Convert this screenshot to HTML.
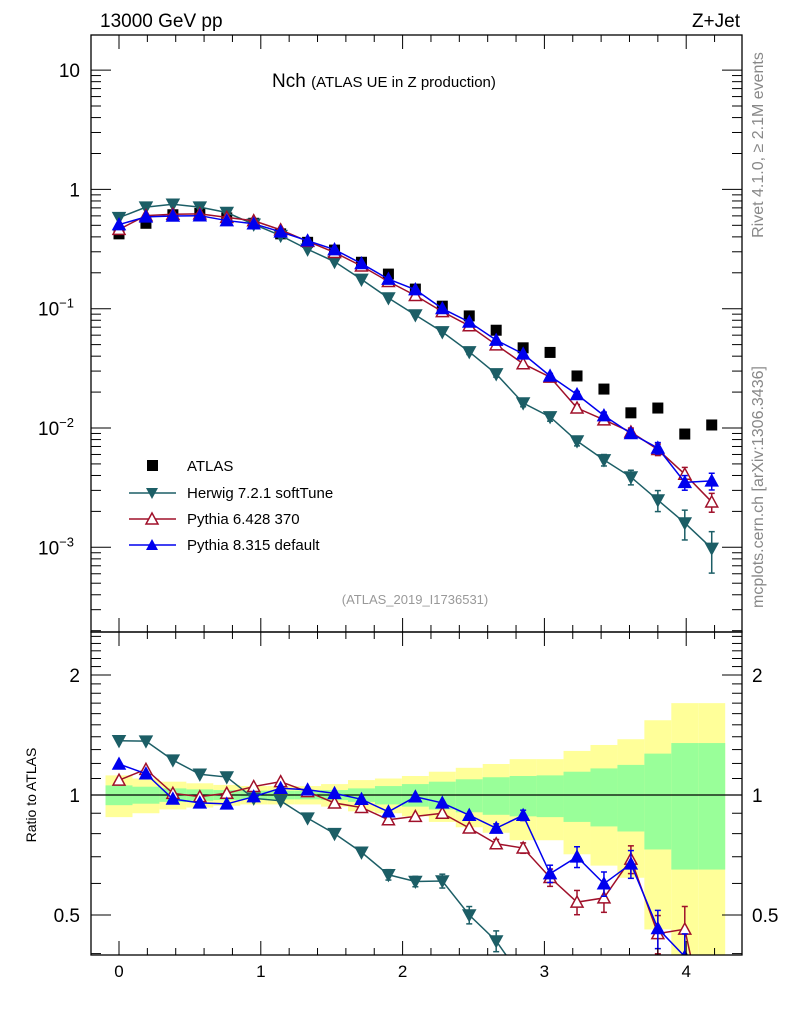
<!DOCTYPE html>
<html><head><meta charset="utf-8"><style>
html,body{margin:0;padding:0;background:#fff;width:786px;height:1024px;overflow:hidden;}
svg{display:block;font-family:"Liberation Sans",sans-serif;}
</style></head><body>
<svg id="c" width="786" height="1024" viewBox="0 0 786 1024" xmlns="http://www.w3.org/2000/svg">
<defs>
<clipPath id="cm"><rect x="91" y="35" width="651" height="597"/></clipPath>
<clipPath id="cr"><rect x="91" y="632" width="651" height="323"/></clipPath>
</defs>
<rect x="0" y="0" width="786" height="1024" fill="#fff"/>
<g id="bands" clip-path="url(#cr)"></g>
<g id="gm" clip-path="url(#cm)"></g>
<g id="gr" clip-path="url(#cr)"></g>
<g id="axes"></g>
<text x="100" y="27" font-size="19">13000 GeV pp</text>
<text x="740" y="27" font-size="19" text-anchor="end">Z+Jet</text>
<text x="272" y="87" font-size="19">Nch <tspan font-size="15">(ATLAS UE in Z production)</tspan></text>
<text x="415" y="604" font-size="13" fill="#999" text-anchor="middle">(ATLAS_2019_I1736531)</text>
<text transform="translate(763,145) rotate(-90)" font-size="16" fill="#888" text-anchor="middle">Rivet 4.1.0, ≥ 2.1M events</text>
<text transform="translate(763,487) rotate(-90)" font-size="16" fill="#888" text-anchor="middle">mcplots.cern.ch [arXiv:1306.3436]</text>
<text transform="translate(36,795) rotate(-90)" font-size="14" text-anchor="middle">Ratio to ATLAS</text>
<g>
<rect x="147" y="460" width="11" height="11" fill="#000"/>
<text x="187" y="471" font-size="15">ATLAS</text>
<line x1="129" y1="493" x2="176" y2="493" stroke="#1c5e66" stroke-width="1.5"/>
<path d="M146,488 L158,488 L152,499 Z" fill="#1c5e66"/>
<text x="187" y="498" font-size="15">Herwig 7.2.1 softTune</text>
<line x1="129" y1="519" x2="176" y2="519" stroke="#a0102a" stroke-width="1.5"/>
<path d="M152,513 L158,524 L146,524 Z" fill="#fff" stroke="#a0102a" stroke-width="1.5"/>
<text x="187" y="524" font-size="15">Pythia 6.428 370</text>
<line x1="129" y1="545" x2="176" y2="545" stroke="#0000ee" stroke-width="1.5"/>
<path d="M152,539 L158,550 L146,550 Z" fill="#0000ee"/>
<text x="187" y="550" font-size="15">Pythia 8.315 default</text>
</g>
</svg>
<script>
const xVals=[0,0.19,0.38,0.57,0.76,0.95,1.14,1.33,1.52,1.71,1.9,2.09,2.28,2.47,2.66,2.85,3.04,3.23,3.42,3.61,3.8,3.99,4.18];
const atlas=[0.424,0.52,0.613,0.63,0.577,0.52,0.424,0.36,0.31,0.245,0.195,0.146,0.105,0.087,0.066,0.047,0.043,0.0273,0.0212,0.0134,0.0147,0.0089,0.0106];
const bandYellow=[0.12,0.10,0.08,0.07,0.06,0.053,0.053,0.053,0.065,0.09,0.10,0.116,0.144,0.17,0.196,0.23,0.23,0.29,0.335,0.38,0.54,0.70,0.70];
const bandGreen=[0.057,0.049,0.039,0.033,0.029,0.025,0.025,0.025,0.029,0.039,0.053,0.065,0.08,0.095,0.108,0.116,0.12,0.144,0.166,0.19,0.27,0.35,0.35];
const herwig=[0.58,0.71,0.75,0.71,0.64,0.51,0.41,0.315,0.248,0.176,0.123,0.0886,0.0639,0.0435,0.0284,0.0162,0.0124,0.00778,0.0054,0.00388,0.00249,0.0016,0.00098];
const herwigErr=[0.01,0.01,0.01,0.01,0.01,0.01,0.01,0.01,0.01,0.015,0.03,0.03,0.04,0.05,0.06,0.07,0.08,0.09,0.11,0.14,0.2,0.28,0.38];
const pythia6=[0.462,0.603,0.619,0.624,0.583,0.546,0.458,0.367,0.296,0.228,0.169,0.129,0.0945,0.0719,0.0498,0.0346,0.0267,0.0147,0.0117,0.00925,0.0066,0.0041,0.0024];
const pythia6Err=[0.005,0.005,0.005,0.005,0.005,0.005,0.005,0.005,0.01,0.01,0.01,0.015,0.02,0.02,0.025,0.03,0.05,0.07,0.08,0.08,0.11,0.14,0.18];
const pythia8=[0.507,0.588,0.599,0.602,0.548,0.515,0.441,0.371,0.313,0.239,0.177,0.1445,0.1003,0.0774,0.0545,0.0418,0.0273,0.0191,0.0127,0.009,0.0068,0.0035,0.0036];
const pythia8Err=[0.005,0.005,0.005,0.005,0.005,0.005,0.005,0.005,0.01,0.01,0.01,0.015,0.02,0.02,0.025,0.03,0.05,0.06,0.07,0.08,0.11,0.14,0.16];
const xTicks=[0,1,2,3,4];
const ratioTicks=[0.5,1,2];

const NS="http://www.w3.org/2000/svg";
const X0=91,X1=742,YT=35,YM=632,YB=955;
const RMIN=0.38;
function sx(v){return 119+(v)*141.8;}
function sy(v){return 428-(Math.log10(v)+2)*119.3;}
function ry(r){return 795-398.6*Math.log10(Math.max(r,RMIN));}
function mk(tag,at,par){const e=document.createElementNS(NS,tag);for(const k in at)e.setAttribute(k,at[k]);par.appendChild(e);return e;}
const gm=document.getElementById('gm'),gr=document.getElementById('gr'),ax=document.getElementById('axes'),bands=document.getElementById('bands');
const half=0.095;

xVals.forEach((x,i)=>{
  const a=sx(x-half),b=sx(x+half);
  const y=mk('rect',{x:a,y:ry(1+bandYellow[i]),width:b-a,height:ry(1-bandYellow[i])-ry(1+bandYellow[i]),fill:'#ffff99'},bands);
  
  
});
xVals.forEach((x,i)=>{
  const a=sx(x-half),b=sx(x+half);
  const g=mk('rect',{x:a,y:ry(1+bandGreen[i]),width:b-a,height:ry(1-bandGreen[i])-ry(1+bandGreen[i]),fill:'#99ff99'},bands);
  
  
});
mk('line',{x1:X0,x2:X1,y1:ry(1),y2:ry(1),stroke:'#000','stroke-width':1.2},bands);

function tri(cx,cy,down,fill,stroke,par){
  const s=6;
  const d=down?`M${cx-s},${cy-s+1} L${cx+s},${cy-s+1} L${cx},${cy+s} Z`:`M${cx},${cy-s} L${cx+s},${cy+s-1} L${cx-s},${cy+s-1} Z`;
  return mk('path',{d:d,fill:fill,stroke:stroke,'stroke-width':1.5},par);
}
// clip ratio polyline to r >= RMIN in log space
function ratioPath(r){
  const L=r.map(v=>Math.log10(v)),lm=Math.log10(RMIN);
  let d='',pen=false;
  for(let i=0;i<r.length;i++){
    const inside=L[i]>=lm;
    if(i>0){
      const a=L[i-1],b=L[i],ain=a>=lm;
      if(ain!==inside){
        const t=(lm-a)/(b-a);
        const xx=xVals[i-1]+t*(xVals[i]-xVals[i-1]);
        const p=sx(xx)+','+ry(RMIN);
        if(ain){d+=' L'+p;pen=false;} else {d+=' M'+p;pen=true;}
      }
    }
    if(inside){d+=(pen?' L':' M')+sx(xVals[i])+','+ry(r[i]);pen=true;}
  }
  return d.trim();
}
function series(vals,errs,color,down,open,name){
  let pts=xVals.map((x,i)=>sx(x)+','+sy(vals[i])).join(' ');
  const l=mk('polyline',{points:pts,fill:'none',stroke:color,'stroke-width':1.5},gm);
  
  
  xVals.forEach((x,i)=>{
    const v=vals[i],e=errs[i]*v,cx=sx(x);
    if(errs[i]>0.02){
      mk('line',{x1:cx,x2:cx,y1:sy(v+e),y2:sy(v-e),stroke:color,'stroke-width':1.5},gm);
      mk('line',{x1:cx-3,x2:cx+3,y1:sy(v+e),y2:sy(v+e),stroke:color,'stroke-width':1.5},gm);
      mk('line',{x1:cx-3,x2:cx+3,y1:sy(v-e),y2:sy(v-e),stroke:color,'stroke-width':1.5},gm);
    }
    const m=tri(cx,sy(v),down,open?'#fff':color,color,gm);
    
    
  });
  const r=xVals.map((x,i)=>vals[i]/atlas[i]);
  const rl=mk('path',{d:ratioPath(r),fill:'none',stroke:color,'stroke-width':1.5},gr);
  
  
  xVals.forEach((x,i)=>{
    const v=r[i],e=errs[i]*v,cx=sx(x);
    if(v+e<RMIN)return;
    if(errs[i]>0.02){
      mk('line',{x1:cx,x2:cx,y1:ry(v+e),y2:ry(v-e),stroke:color,'stroke-width':1.5},gr);
      mk('line',{x1:cx-3,x2:cx+3,y1:ry(v+e),y2:ry(v+e),stroke:color,'stroke-width':1.5},gr);
      if(v-e>=RMIN)mk('line',{x1:cx-3,x2:cx+3,y1:ry(v-e),y2:ry(v-e),stroke:color,'stroke-width':1.5},gr);
    }
    if(v<RMIN)return;
    const m=tri(cx,ry(v),down,open?'#fff':color,color,gr);
    
    
  });
}
xVals.forEach((x,i)=>{
  const s=mk('rect',{x:sx(x)-5.5,y:sy(atlas[i])-5.5,width:11,height:11,fill:'#000'},gm);
  
  
});
series(herwig,herwigErr,'#1c5e66',true,false,'herwig');
series(pythia6,pythia6Err,'#a0102a',false,true,'pythia6');
series(pythia8,pythia8Err,'#0000ee',false,false,'pythia8');

mk('rect',{x:X0,y:YT,width:X1-X0,height:YM-YT,fill:'none',stroke:'#000','stroke-width':1.3},ax);
mk('rect',{x:X0,y:YM,width:X1-X0,height:YB-YM,fill:'none',stroke:'#000','stroke-width':1.3},ax);
function tl(x1,y1,x2,y2){mk('line',{x1,y1,x2,y2,stroke:'#000','stroke-width':1},ax);}
for(let k=-1;k<=22;k++){
  const v=k*0.2; const x=sx(v); if(x<X0||x>X1)continue;
  const major=(k%5===0); const L=major?14:7;
  tl(x,YM,x,YM-L);tl(x,YT,x,YT+L);tl(x,YB,x,YB-L);tl(x,YM,x,YM+L);
}
xTicks.forEach(v=>{
  const t=mk('text',{x:sx(v),y:977,'font-size':17,'text-anchor':'middle'},ax);
  t.textContent=v;
  
  
});
for(let d=-4;d<=1;d++){
  for(let m=1;m<10;m++){
    const v=m*Math.pow(10,d); const y=sy(v); if(y<YT||y>YM)continue;
    const L=m===1?20:10;
    tl(X0,y,X0+L,y);tl(X1,y,X1-L,y);
  }
}
const mainLabels=[[10,'10',''],[1,'1',''],[0.1,'10','−1'],[0.01,'10','−2'],[0.001,'10','−3']];
mainLabels.forEach(([v,b,e])=>{
  const t=mk('text',{x:e?74:80,y:sy(v)+7,'font-size':19,'text-anchor':'end'},ax);
  t.textContent=b;
  if(e){const s=mk('tspan',{dy:-8,'font-size':13},t);s.textContent=e;}
  
  
});
for(let r=0.4;r<=2.6;r+=0.1){
  const rr=Math.round(r*10)/10; const y=ry(rr); if(y<YM||y>YB)continue;
  const major=(rr===0.5||rr===1||rr===2); const L=major?20:10;
  tl(X0,y,X0+L,y);tl(X1,y,X1-L,y);
}
ratioTicks.forEach(v=>{
  const t=mk('text',{x:80,y:ry(v)+7,'font-size':19,'text-anchor':'end'},ax);
  t.textContent=v;
  
  
  const t2=mk('text',{x:752,y:ry(v)+7,'font-size':19},ax);
  t2.textContent=v;
  
  
});
</script>
</body></html>
